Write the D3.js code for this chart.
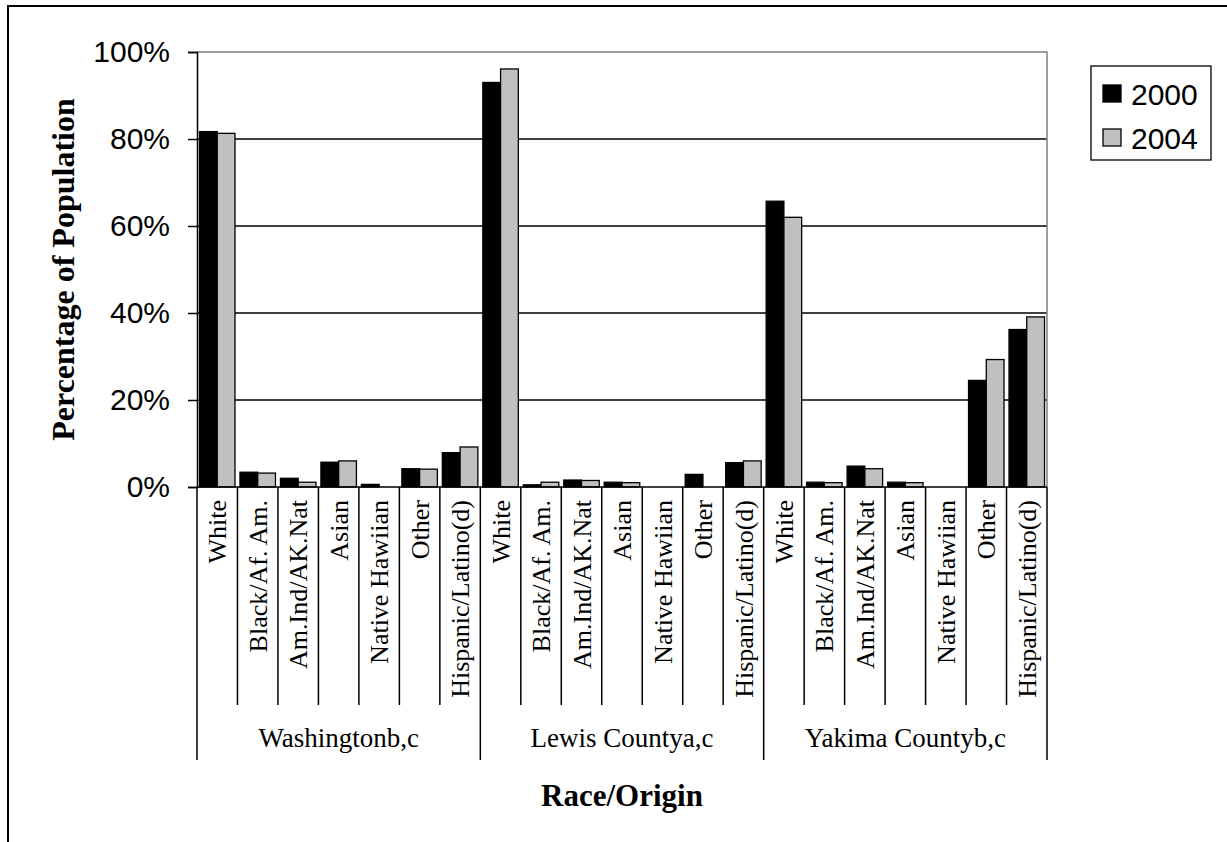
<!DOCTYPE html>
<html>
<head>
<meta charset="utf-8">
<script src="https://cdn.jsdelivr.net/npm/d3@7"></script>
<style>
    body { margin: 0; background: #fff; }
</style>
</head>
<body>
<script>
const groups = ["Washingtonb,c", "Lewis Countya,c", "Yakima Countyb,c"];
const races = ["White", "Black/Af. Am.", "Am.Ind/AK.Nat", "Asian", "Native Hawiian", "Other", "Hispanic/Latino(d)"];
const years = ["2000", "2004"];

// percent, one row per group, in race order
const values2000 = [
    [81.7, 3.4, 2.0, 5.7, 0.6, 4.2, 7.9],
    [93.0, 0.5, 1.6, 1.1, 0, 2.9, 5.6],
    [65.7, 1.1, 4.8, 1.1, 0, 24.5, 36.2]
];
const values2004 = [
    [81.3, 3.2, 1.1, 6.0, 0, 4.1, 9.2],
    [96.1, 1.1, 1.5, 1.0, 0, 0, 6.0],
    [62.0, 1.0, 4.2, 1.0, 0, 29.3, 39.1]
];
const yTicks = [0, 20, 40, 60, 80, 100];

const width = 1227,
    height = 842,
    plotLeft = 197, plotRight = 1047, plotTop = 52, plotBottom = 487;

const svg = d3.select("body")
    .append("svg")
    .attr("width", width)
    .attr("height", height);

// outer frame (right/bottom edges fall off the page)
svg.append("rect")
    .attr("x", 8).attr("y", 6)
    .attr("width", 1240).attr("height", 860)
    .attr("fill", "none")
    .attr("stroke", "#000")
    .attr("stroke-width", 2);

const rows = [];
groups.forEach((g, gi) => {
    races.forEach((r, ri) => {
        rows.push({key: g + "|" + r, group: g, race: r, v: [values2000[gi][ri], values2004[gi][ri]]});
    });
});

const slot = d3.scaleBand()
    .domain(rows.map(d => d.key))
    .range([plotLeft, plotRight]);

const sub = d3.scaleBand()
    .domain(years)
    .range([0, slot.bandwidth()])
    .paddingInner(0)
    .paddingOuter(0.14);

const y = d3.scaleLinear()
    .domain([0, 100])
    .range([plotBottom, plotTop]);

// gridlines
svg.append("g")
    .selectAll("line")
    .data(yTicks.filter(t => t > 0 && t < 100))
    .join("line")
    .attr("x1", plotLeft).attr("x2", plotRight)
    .attr("y1", d => y(d)).attr("y2", d => y(d))
    .attr("stroke", "#000")
    .attr("stroke-width", 1.5);

// plot area border top + right (gray)
svg.append("path")
    .attr("d", `M${plotLeft},${y(100)}H${plotRight}V${plotBottom}`)
    .attr("fill", "none")
    .attr("stroke", "#808080")
    .attr("stroke-width", 1.5);

// bars
const colors = ["#000000", "#c0c0c0"];
const cat = svg.append("g")
    .selectAll("g")
    .data(rows)
    .join("g")
    .attr("transform", d => `translate(${slot(d.key)},0)`);

cat.selectAll("rect")
    .data(d => d.v.map((v, i) => ({year: years[i], v: v, i: i})).filter(b => b.v > 0))
    .join("rect")
    .attr("x", b => sub(b.year))
    .attr("width", sub.bandwidth())
    .attr("y", b => y(b.v))
    .attr("height", b => y(0) - y(b.v))
    .attr("fill", b => colors[b.i])
    .attr("stroke", "#000")
    .attr("stroke-width", 1.3);

// y axis
const yAxis = d3.axisLeft(y)
    .tickValues(yTicks)
    .tickFormat(d => d + "%")
    .tickSize(9)
    .tickPadding(18);

svg.append("g")
    .attr("transform", `translate(${plotLeft},0)`)
    .call(yAxis)
    .call(g => g.select(".domain").attr("stroke-width", 1.5))
    .call(g => g.selectAll(".tick line").attr("stroke-width", 1.5))
    .call(g => g.selectAll("text")
        .attr("font-family", "'Liberation Sans', Arial, sans-serif")
        .attr("font-size", 30)
        .attr("fill", "#000"));

// x axis line
svg.append("line")
    .attr("x1", plotLeft).attr("x2", plotRight)
    .attr("y1", plotBottom).attr("y2", plotBottom)
    .attr("stroke", "#000")
    .attr("stroke-width", 1.5);

// category separators
const bounds = rows.map(d => slot(d.key)).concat([plotRight]);
svg.append("g")
    .selectAll("line")
    .data(bounds)
    .join("line")
    .attr("x1", d => d).attr("x2", d => d)
    .attr("y1", plotBottom)
    .attr("y2", (d, i) => i % races.length === 0 ? 760 : 705)
    .attr("stroke", "#000")
    .attr("stroke-width", 1.5);

// rotated race labels
svg.append("g")
    .selectAll("text")
    .data(rows)
    .join("text")
    .attr("transform", d => `translate(${slot(d.key) + slot.bandwidth() / 2},${plotBottom + 13}) rotate(-90)`)
    .attr("text-anchor", "end")
    .attr("dy", "0.35em")
    .attr("font-family", "'Liberation Serif', 'Times New Roman', serif")
    .attr("font-size", 26)
    .text(d => d.race);

// group labels
svg.append("g")
    .selectAll("text")
    .data(groups)
    .join("text")
    .attr("x", (g, gi) => (bounds[gi * races.length] + bounds[(gi + 1) * races.length]) / 2)
    .attr("y", 747)
    .attr("text-anchor", "middle")
    .attr("font-family", "'Liberation Serif', 'Times New Roman', serif")
    .attr("font-size", 27)
    .text(d => d);

// axis titles
svg.append("text")
    .attr("x", (plotLeft + plotRight) / 2)
    .attr("y", 806)
    .attr("text-anchor", "middle")
    .attr("font-family", "'Liberation Serif', 'Times New Roman', serif")
    .attr("font-weight", "bold")
    .attr("font-size", 31)
    .text("Race/Origin");

svg.append("text")
    .attr("transform", `translate(63,${(plotTop + plotBottom) / 2}) rotate(-90)`)
    .attr("text-anchor", "middle")
    .attr("dy", "0.35em")
    .attr("font-family", "'Liberation Serif', 'Times New Roman', serif")
    .attr("font-weight", "bold")
    .attr("font-size", 32)
    .text("Percentage of Population");

// legend
const legend = svg.append("g");
legend.append("rect")
    .attr("x", 1091).attr("y", 66)
    .attr("width", 120).attr("height", 94)
    .attr("fill", "#fff")
    .attr("stroke", "#000")
    .attr("stroke-width", 1.3);

const item = legend.selectAll("g")
    .data(years)
    .join("g")
    .attr("transform", (d, i) => `translate(1103,${85 + i * 44})`);

item.append("rect")
    .attr("width", 18).attr("height", 17)
    .attr("fill", (d, i) => colors[i])
    .attr("stroke", "#000")
    .attr("stroke-width", 1.3);

item.append("text")
    .attr("x", 28)
    .attr("y", 9)
    .attr("dy", "0.35em")
    .attr("font-family", "'Liberation Sans', Arial, sans-serif")
    .attr("font-size", 30)
    .text(d => d);
</script>
</body>
</html>
